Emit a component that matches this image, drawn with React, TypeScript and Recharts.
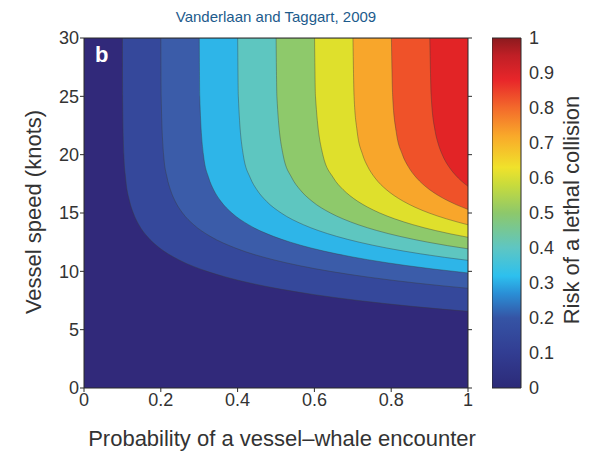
import React from "react";
import {
  Area,
  Bar,
  BarChart,
  CartesianGrid,
  ComposedChart,
  XAxis,
  YAxis,
} from "recharts";

const encounterTicks = [0, 0.2, 0.4, 0.6, 0.8, 1];
const speedTicks = [0, 5, 10, 15, 20, 25, 30];
const riskTicks = [0, 0.1, 0.2, 0.3, 0.4, 0.5, 0.6, 0.7, 0.8, 0.9, 1];

// fill colour of each 0.1 risk band, lowest first
const bandColors = [
  "#31297a", "#35489b", "#3b5ca9", "#2eb5e8", "#5ec6c0",
  "#8ec96b", "#dfe02c", "#f8a62b", "#ef5229", "#e22426",
];

// contour lines: [encounter probability, speed in knots]
const contour10 = [[0.1001, 30], [0.1005, 25], [0.1037, 20], [0.1083, 18], [0.1188, 16], [0.1284, 15], [0.1427, 14], [0.1644, 13], [0.197, 12], [0.2462, 11], [0.3203, 10], [0.3705, 9.5], [0.432, 9], [0.5076, 8.5], [0.6003, 8], [0.7141, 7.5], [0.8538, 7], [1, 6.57]];
const contour20 = [[0.2001, 30], [0.2009, 25], [0.2073, 20], [0.2166, 18], [0.225, 17], [0.2376, 16], [0.2567, 15], [0.2855, 14], [0.3288, 13], [0.3941, 12], [0.4924, 11], [0.559, 10.5], [0.6407, 10], [0.741, 9.5], [0.864, 9], [0.9357, 8.75], [1, 8.55]];
const contour30 = [[0.3002, 30], [0.3014, 25], [0.311, 20], [0.3249, 18], [0.3375, 17], [0.3565, 16], [0.3851, 15], [0.4282, 14], [0.4932, 13], [0.5372, 12.5], [0.5911, 12], [0.6574, 11.5], [0.7387, 11], [0.8385, 10.5], [0.909, 10.2], [1, 9.86]];
const contour40 = [[0.4002, 30], [0.4019, 25], [0.4146, 20], [0.4332, 18], [0.45, 17], [0.4753, 16], [0.5135, 15], [0.571, 14], [0.6099, 13.5], [0.6576, 13], [0.7162, 12.5], [0.7882, 12], [0.8765, 11.5], [0.9389, 11.2], [1, 10.94]];
const contour50 = [[0.5003, 30], [0.5023, 25], [0.5183, 20], [0.5415, 18], [0.5625, 17], [0.5941, 16], [0.6418, 15], [0.6741, 14.5], [0.7137, 14], [0.7623, 13.5], [0.822, 13], [0.8953, 12.5], [0.947, 12.2], [1, 11.93]];
const contour60 = [[0.6004, 30], [0.6028, 25], [0.6219, 20], [0.6497, 18], [0.6749, 17], [0.692, 16.5], [0.7129, 16], [0.7387, 15.5], [0.7702, 15], [0.8089, 14.5], [0.8564, 14], [0.9148, 13.5], [0.956, 13.2], [1, 12.92]];
const contour70 = [[0.7004, 30], [0.7033, 25], [0.7113, 22], [0.7256, 20], [0.7385, 19], [0.758, 18], [0.7874, 17], [0.8074, 16.5], [0.8318, 16], [0.8618, 15.5], [0.8985, 15], [0.9438, 14.5], [0.9756, 14.2], [1, 13.99]];
const contour80 = [[0.8005, 30], [0.8038, 25], [0.8129, 22], [0.8292, 20], [0.844, 19], [0.8663, 18], [0.8814, 17.5], [0.8999, 17], [0.9227, 16.5], [0.9506, 16], [0.9703, 15.7], [1, 15.31]];
const contour90 = [[0.9005, 30], [0.9042, 25], [0.9145, 22], [0.9218, 21], [0.9329, 20], [0.9495, 19], [0.9608, 18.5], [0.9746, 18], [0.9916, 17.5], [1, 17.29]];

const contours = [contour10, contour20, contour30, contour40, contour50, contour60, contour70, contour80, contour90];

// colour bar gradient stops [position, colour]
const scaleStops: [number, string][] = [
  [0, "#2c2a78"], [0.1, "#323d92"], [0.2, "#3554a5"], [0.27, "#2a8fd6"],
  [0.32, "#2dc0ee"], [0.4, "#5ec6c3"], [0.5, "#8dc86b"], [0.58, "#c8db3c"],
  [0.63, "#f0e22b"], [0.72, "#f9a92a"], [0.8, "#f36a2b"], [0.88, "#e8262a"],
  [0.95, "#c01f26"], [1, "#8c1a1e"],
];
const colorbarData = [{ name: "risk", risk: 1 }];

const FONT = "'Liberation Sans', Arial, Helvetica, sans-serif";
const TEXT = "#333333";
const AXIS = "#2b2b2b";
const SPEED_MAX = 30;

const tickStyle = { fontSize: 18, fill: TEXT };
const blank = () => "";

export default function App() {
  const layers = contours.map((pts) =>
    pts.map(([x, v]) => ({ x, band: [v, SPEED_MAX] }))
  );

  return (
    <div
      style={{
        position: "absolute",
        left: 0,
        top: 0,
        width: 598,
        height: 453,
        fontFamily: FONT,
        background: "#fff",
      }}
    >
      <ComposedChart width={480} height={430} margin={{ top: 37, right: 11, bottom: 0, left: 0 }}>
        <CartesianGrid horizontal={false} vertical={false} fill={bandColors[0]} fillOpacity={1} />
        <XAxis
          type="number"
          dataKey="x"
          domain={[0, 1]}
          ticks={encounterTicks}
          interval={0}
          allowDataOverflow
          height={42}
          tickSize={4}
          tickMargin={1}
          stroke={AXIS}
          tick={tickStyle}
        />
        <XAxis
          xAxisId="top"
          orientation="top"
          type="number"
          domain={[0, 1]}
          ticks={encounterTicks}
          interval={0}
          allowDataOverflow
          height={1}
          tickSize={4}
          tickFormatter={blank}
          stroke={AXIS}
        />
        <YAxis
          type="number"
          domain={[0, SPEED_MAX]}
          ticks={speedTicks}
          interval={0}
          allowDataOverflow
          width={84}
          tickSize={4}
          tickMargin={1}
          stroke={AXIS}
          tick={tickStyle}
        />
        <YAxis
          yAxisId="right"
          orientation="right"
          type="number"
          domain={[0, SPEED_MAX]}
          ticks={speedTicks}
          interval={0}
          allowDataOverflow
          width={1}
          tickSize={4}
          tickFormatter={blank}
          stroke={AXIS}
        />
        {layers.map((d, i) => (
          <Area
            key={i}
            data={d}
            dataKey="band"
            type="monotone"
            fill={bandColors[i + 1]}
            fillOpacity={1}
            stroke="#3a3a3a"
            strokeOpacity={0.5}
            strokeWidth={0.8}
            dot={false}
            activeDot={false}
            isAnimationActive={false}
          />
        ))}
      </ComposedChart>

      <div style={{ position: "absolute", left: 492, top: 28 }}>
        <BarChart
          width={90}
          height={370}
          data={colorbarData}
          margin={{ top: 10, right: 0, bottom: 10, left: 0 }}
          barCategoryGap={0}
        >
          <defs>
            <linearGradient id="riskScale" x1="0" y1="1" x2="0" y2="0">
              {scaleStops.map(([o, c]) => (
                <stop key={o} offset={o} stopColor={c} />
              ))}
            </linearGradient>
          </defs>
          <XAxis dataKey="name" hide />
          <YAxis
            yAxisId="lab"
            orientation="right"
            type="number"
            domain={[0, 1]}
            ticks={riskTicks}
            interval={0}
            width={61}
            tickLine={false}
            axisLine={false}
            tickMargin={2}
            tick={tickStyle}
          />
          <YAxis
            yAxisId="inL"
            orientation="left"
            mirror
            type="number"
            domain={[0, 1]}
            ticks={riskTicks}
            interval={0}
            tickSize={3}
            axisLine={false}
            tickFormatter={blank}
            stroke={AXIS}
          />
          <YAxis
            yAxisId="inR"
            orientation="right"
            mirror
            type="number"
            domain={[0, 1]}
            ticks={riskTicks}
            interval={0}
            tickSize={3}
            axisLine={false}
            tickFormatter={blank}
            stroke={AXIS}
          />
          <Bar
            yAxisId="lab"
            dataKey="risk"
            fill="url(#riskScale)"
            stroke={AXIS}
            strokeWidth={1}
            isAnimationActive={false}
          />
        </BarChart>
      </div>

      <div
        style={{
          position: "absolute",
          left: 0,
          width: 552,
          top: 9,
          textAlign: "center",
          fontSize: 15,
          lineHeight: "15px",
          color: "#1d5b8c",
        }}
      >
        Vanderlaan and Taggart, 2009
      </div>
      <div
        style={{
          position: "absolute",
          left: 95,
          top: 44,
          fontSize: 22,
          lineHeight: "22px",
          fontWeight: "bold",
          color: "#fff",
        }}
      >
        b
      </div>
      <div
        style={{
          position: "absolute",
          left: 0,
          width: 564,
          top: 428,
          textAlign: "center",
          fontSize: 22,
          lineHeight: "22px",
          color: TEXT,
        }}
      >
        Probability of a vessel–whale encounter
      </div>
      <div
        style={{
          position: "absolute",
          left: 34,
          top: 212,
          transform: "translate(-50%, -50%) rotate(-90deg)",
          whiteSpace: "nowrap",
          fontSize: 22,
          lineHeight: "22px",
          color: TEXT,
        }}
      >
        Vessel speed (knots)
      </div>
      <div
        style={{
          position: "absolute",
          left: 572,
          top: 210,
          transform: "translate(-50%, -50%) rotate(-90deg)",
          whiteSpace: "nowrap",
          fontSize: 22,
          lineHeight: "22px",
          color: TEXT,
        }}
      >
        Risk of a lethal collision
      </div>
    </div>
  );
}
